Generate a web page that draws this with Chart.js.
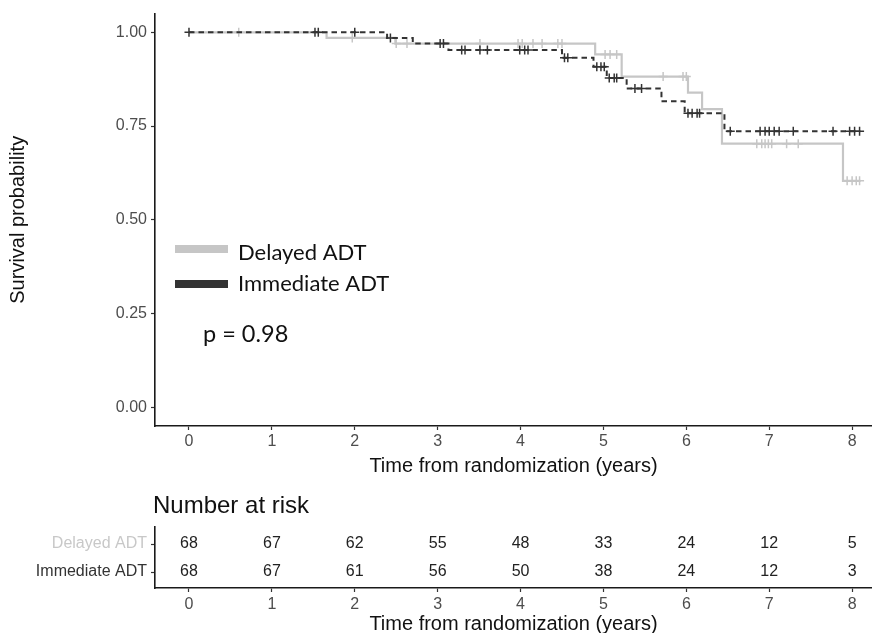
<!DOCTYPE html>
<html>
<head>
<meta charset="utf-8">
<script src="https://cdn.jsdelivr.net/npm/chart.js@4.4.1/dist/chart.umd.min.js"></script>
<style>
html,body{margin:0;padding:0;background:#fff;overflow:hidden;width:872px;height:633px;}
#main{position:absolute;left:0;top:0;}
#risk{position:absolute;left:0;top:480px;}
</style>
</head>
<body>
<canvas id="main" width="872" height="480"></canvas>
<canvas id="risk" width="872" height="165"></canvas>
<script>
// ---------------- data ----------------
const seriesNames = ['Delayed ADT', 'Immediate ADT'];

// Kaplan-Meier step points (time in years, survival after the step)
const delayedTime = [0, 1.66, 2.49, 4.90, 5.22, 6.02, 6.19, 6.43, 7.89, 8.10];
const delayedSurv = [1.000, 0.985, 0.970, 0.941, 0.882, 0.839, 0.795, 0.703, 0.604, 0.604];
const delayedCensor = [0.60, 1.97, 2.50, 2.63, 3.51, 3.97, 4.02, 4.15, 4.26, 4.45, 4.50,
  5.02, 5.08, 5.16, 5.72, 5.96, 6.00, 6.85, 6.91, 6.95, 6.99, 7.03, 7.21, 7.35,
  7.94, 8.00, 8.05, 8.09];

const immediateTime = [0, 2.39, 2.70, 3.13, 4.50, 4.88, 5.04, 5.28, 5.70, 5.98, 6.46, 8.10];
const immediateSurv = [1.000, 0.985, 0.970, 0.953, 0.932, 0.908, 0.878, 0.850, 0.816, 0.784, 0.736, 0.736];
const immediateCensor = [0, 1.52, 1.56, 2.00, 2.43, 3.03, 3.07, 3.29, 3.33, 3.51, 3.60,
  3.99, 4.05, 4.09, 4.53, 4.57, 4.92, 4.97, 5.01, 5.07, 5.13, 5.16, 5.38, 5.46,
  6.02, 6.07, 6.13, 6.16, 6.53, 6.89, 6.95, 7.00, 7.06, 7.12, 7.29, 7.77,
  7.97, 8.03, 8.09];

const xTicks = [0, 1, 2, 3, 4, 5, 6, 7, 8];
const yTicks = [0, 0.25, 0.5, 0.75, 1];

const riskTimes = [0, 1, 2, 3, 4, 5, 6, 7, 8];
const delayedRisk = [68, 67, 62, 55, 48, 33, 24, 12, 5];
const immediateRisk = [68, 67, 61, 56, 50, 38, 24, 12, 3];

const pValueText = 'p = 0.98';
const xTitle = 'Time from randomization (years)';
const yTitle = 'Survival probability';
const riskTitle = 'Number at risk';

// ---------------- styles ----------------
const delayedColor = '#c6c6c6';
const immediateColor = '#333333';
const sans = '"Liberation Sans", Arial, Helvetica, sans-serif';
const legendFont = 'Lato, "Open Sans", sans-serif';
const tickColor = '#4d4d4d';

function survAt(times, surv, t) {
  let s = surv[0];
  for (let i = 0; i < times.length; i++) { if (times[i] <= t) s = surv[i]; }
  return s;
}
const pts = (xs, ys) => xs.map((x, i) => ({x: x, y: ys[i]}));
const censorPts = (cs, times, surv) => cs.map(t => ({x: t, y: survAt(times, surv, t)}));

const xScaleBase = {
  type: 'linear', min: -0.41, max: 8.24,
  afterBuildTicks: s => { s.ticks = xTicks.map(v => ({value: v})); },
  ticks: { color: tickColor, font: {family: sans, size: 16}, padding: 2, autoSkip: false, maxRotation: 0,
           callback: v => String(v) },
  grid: { display: true, drawOnChartArea: false, drawTicks: true, tickLength: 4, tickColor: '#333', tickWidth: 1.2 },
  border: { display: true, color: '#1a1a1a', width: 1.6 },
  title: { display: true, text: xTitle, color: '#111', font: {family: sans, size: 20}, padding: {top: 0, bottom: 2} }
};

// ---------------- main KM chart ----------------
const legendPlugin = {
  id: 'kmLegend',
  afterDraw(chart) {
    const ctx = chart.ctx, a = chart.chartArea;
    ctx.save();
    const entries = [
      {name: seriesNames[0], color: delayedColor, cy: 249, base: 260},
      {name: seriesNames[1], color: immediateColor, cy: 284, base: 291}
    ];
    ctx.font = '22px ' + legendFont;
    ctx.textBaseline = 'alphabetic';
    entries.forEach(e => {
      ctx.fillStyle = e.color;
      ctx.fillRect(a.left + 20, e.cy - 4, 53, 8);
      ctx.fillStyle = '#111';
      ctx.fillText(e.name, a.left + 83, e.base);
    });
    ctx.font = '23.5px ' + legendFont;
    ctx.fillText(pValueText, a.left + 48, 342);
    ctx.restore();
  }
};

new Chart(document.getElementById('main'), {
  type: 'scatter',
  data: {
    datasets: [
      { label: seriesNames[0], data: pts(delayedTime, delayedSurv), showLine: true, stepped: true,
        borderColor: delayedColor, borderWidth: 2.2, pointRadius: 0, order: 4 },
      { label: seriesNames[0] + ' censor', data: censorPts(delayedCensor, delayedTime, delayedSurv), showLine: false,
        pointStyle: 'cross', pointRadius: 4.5, borderColor: delayedColor, borderWidth: 1.5, order: 3 },
      { label: seriesNames[1], data: pts(immediateTime, immediateSurv), showLine: true, stepped: true,
        borderColor: immediateColor, borderWidth: 2, borderDash: [5.5, 4], pointRadius: 0, order: 2 },
      { label: seriesNames[1] + ' censor', data: censorPts(immediateCensor, immediateTime, immediateSurv), showLine: false,
        pointStyle: 'cross', pointRadius: 4.5, borderColor: immediateColor, borderWidth: 1.5, order: 1 }
    ]
  },
  options: {
    responsive: false, animation: false,
    layout: { autoPadding: false, padding: {top: 12, left: 0, right: 0, bottom: 0} },
    plugins: { legend: {display: false}, tooltip: {enabled: false} },
    scales: {
      x: Object.assign({}, xScaleBase, { afterFit: s => { s.height = 54; } }),
      y: {
        type: 'linear', min: -0.05, max: 1.05,
        afterBuildTicks: s => { s.ticks = yTicks.map(v => ({value: v})); },
        afterFit: s => { s.width = 155; },
        ticks: { color: tickColor, font: {family: sans, size: 16}, padding: 4, callback: v => v.toFixed(2) },
        grid: { display: true, drawOnChartArea: false, drawTicks: true, tickLength: 4, tickColor: '#333', tickWidth: 1.2 },
        border: { display: true, color: '#1a1a1a', width: 1.6 },
        title: { display: true, text: yTitle, color: '#111', font: {family: sans, size: 20}, padding: {top: 6, bottom: 0} }
      }
    }
  },
  plugins: [legendPlugin]
});

// ---------------- risk table ----------------
const riskPlugin = {
  id: 'riskText',
  afterDatasetsDraw(chart) {
    const ctx = chart.ctx;
    ctx.save();
    ctx.font = '16px ' + sans;
    ctx.fillStyle = '#222';
    ctx.textAlign = 'center';
    ctx.textBaseline = 'middle';
    chart.data.datasets.forEach((ds, di) => {
      const meta = chart.getDatasetMeta(di);
      meta.data.forEach((el, i) => { ctx.fillText(String(ds.riskValues[i]), el.x, el.y); });
    });
    ctx.restore();
  },
  afterDraw(chart) {
    const ctx = chart.ctx, a = chart.chartArea;
    ctx.save();
    ctx.font = '24px ' + sans;
    ctx.fillStyle = '#111';
    ctx.textBaseline = 'alphabetic';
    ctx.fillText(riskTitle, a.left - 2, a.top - 14);
    ctx.restore();
  }
};

new Chart(document.getElementById('risk'), {
  type: 'scatter',
  data: {
    datasets: [
      { label: seriesNames[0], data: riskTimes.map(t => ({x: t, y: 1})), riskValues: delayedRisk, pointRadius: 0, showLine: false },
      { label: seriesNames[1], data: riskTimes.map(t => ({x: t, y: 0})), riskValues: immediateRisk, pointRadius: 0, showLine: false }
    ]
  },
  options: {
    responsive: false, animation: false,
    layout: { autoPadding: false, padding: {top: 47, left: 0, right: 0, bottom: 0} },
    plugins: { legend: {display: false}, tooltip: {enabled: false} },
    scales: {
      x: Object.assign({}, xScaleBase, {
        afterFit: s => { s.height = 57; },
        ticks: Object.assign({}, xScaleBase.ticks, {padding: 3}),
        title: Object.assign({}, xScaleBase.title, {padding: {top: 0, bottom: 9}})
      }),
      y: {
        type: 'linear', min: -0.57, max: 1.61,
        afterBuildTicks: s => { s.ticks = [{value: 1}, {value: 0}]; },
        afterFit: s => { s.width = 155; },
        ticks: { font: {family: sans, size: 16}, padding: 4,
                 color: c => (c.tick && c.tick.value === 1) ? '#c8c8c8' : '#333',
                 callback: v => v === 1 ? seriesNames[0] : seriesNames[1] },
        grid: { display: true, drawOnChartArea: false, drawTicks: true, tickLength: 4, tickColor: '#333', tickWidth: 1.2 },
        border: { display: true, color: '#1a1a1a', width: 1.6 },
        title: { display: false }
      }
    }
  },
  plugins: [riskPlugin]
});
</script>
</body>
</html>
